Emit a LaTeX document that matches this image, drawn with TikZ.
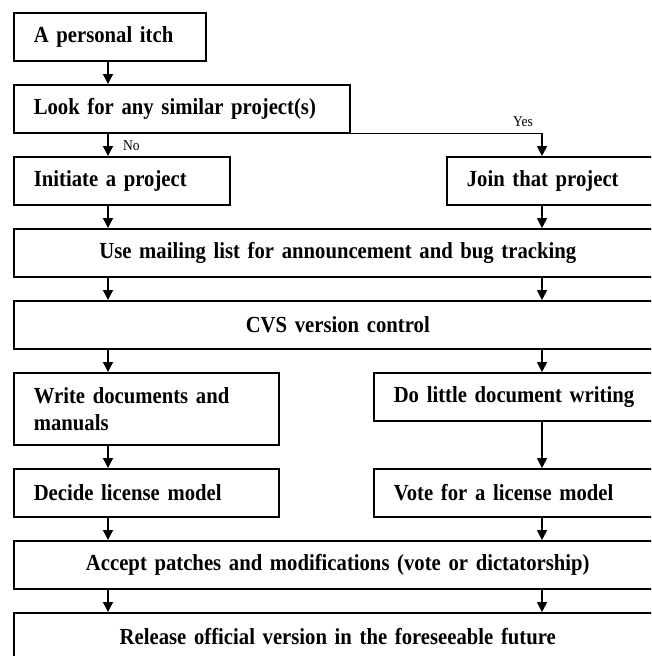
\documentclass[tikz,border=0pt]{standalone}
\usepackage{fontspec}
\setmainfont{Liberation Serif}
\newfontfamily\condserif[FakeStretch=0.9,WordSpace=0.7]{Liberation Serif}
\usetikzlibrary{arrows.meta}
\tikzset{
  flowbox/.style={draw, line width=1.6pt, anchor=north west, inner xsep=20pt, inner ysep=0pt,
    minimum height=48pt, font=\condserif\fontsize{23}{27}\selectfont\bfseries},
  leftbox/.style={flowbox, align=left},
  widebox/.style={flowbox, align=center, text width=608pt},
  arr/.style={line width=1.5pt, -{Triangle[length=10pt,width=10pt]}},
  lbl/.style={font=\condserif\fontsize{15}{17}\selectfont, inner sep=0pt}
}
\begin{document}
\begin{tikzpicture}[x=1pt,y=-1pt]
\useasboundingbox (0,0) rectangle (651,656);
\clip (0,0) rectangle (651,656);
\coordinate (lx) at (108,0);
\coordinate (rx) at (542,0);
\node[leftbox, text width=152pt] (b1) at (13,12) {A personal itch};
\node[leftbox, text width=296pt] (b2) at (13,84) {Look for any similar project(s)};
\node[leftbox, text width=176pt] (b3) at (13,156) {Initiate a project};
\node[leftbox, text width=175pt] (b4) at (446,156) {Join that project};
\node[widebox] (b5) at (13,228) {Use mailing list for announcement and bug tracking};
\node[widebox] (b6) at (13,300) {CVS version control};
\node[leftbox, text width=225pt, minimum height=72pt] (b7) at (13,372) {Write documents and\\manuals};
\node[leftbox, text width=248pt] (b8) at (373,372) {Do little document writing};
\node[leftbox, text width=225pt] (b9) at (13,468) {Decide license model};
\node[leftbox, text width=248pt] (b10) at (373,468) {Vote for a license model};
\node[widebox] (b11) at (13,540) {Accept patches and modifications (vote or dictatorship)};
\node[widebox, minimum height=48pt] (b12) at (13,612) {Release official version in the foreseeable future};

\draw[arr] (b1.south -| lx) -- (b2.north -| lx);
\draw[arr] (b2.south -| lx) -- (b3.north -| lx);
\draw[arr] (b2.south east) -| (rx |- b4.north);
\node[lbl, anchor=west] (no) at (123,146) {No};
\node[lbl] (yes) at (523,122) {Yes};
\draw[arr] (b3.south -| lx) -- (b5.north -| lx);
\draw[arr] (b4.south -| rx) -- (b5.north -| rx);
\draw[arr] (b5.south -| lx) -- (b6.north -| lx);
\draw[arr] (b5.south -| rx) -- (b6.north -| rx);
\draw[arr] (b6.south -| lx) -- (b7.north -| lx);
\draw[arr] (b6.south -| rx) -- (b8.north -| rx);
\draw[arr] (b7.south -| lx) -- (b9.north -| lx);
\draw[arr] (b8.south -| rx) -- (b10.north -| rx);
\draw[arr] (b9.south -| lx) -- (b11.north -| lx);
\draw[arr] (b10.south -| rx) -- (b11.north -| rx);
\draw[arr] (b11.south -| lx) -- (b12.north -| lx);
\draw[arr] (b11.south -| rx) -- (b12.north -| rx);
\end{tikzpicture}
\end{document}
